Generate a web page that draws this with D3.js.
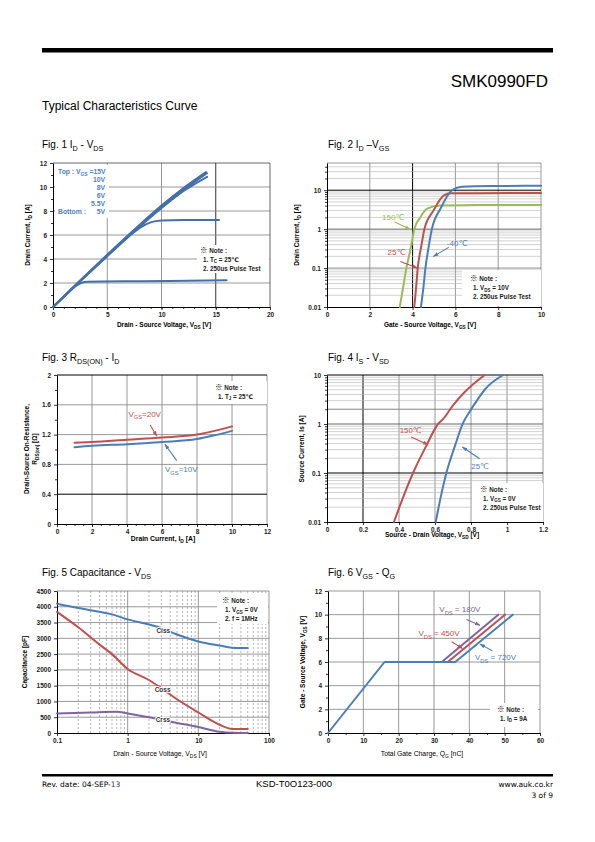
<!DOCTYPE html>
<html><head><meta charset="utf-8">
<script src="https://cdn.jsdelivr.net/npm/d3@7"></script>
<style>body{margin:0;background:#fff}</style>
</head><body>
<svg id="page" width="595" height="842" xmlns="http://www.w3.org/2000/svg"></svg>
<script>
// ---------------- DATA ----------------
// Fig 1  ID - VDS
const f1XTicks = [0,5,10,15,20];
const f1YTicks = [0,2,4,6,8,10,12];
const id_vgs15 = [[0,0],[2.5,2.2],[5,4.35],[7.5,6.45],[10,8.45],[12,9.9],[14.1,11.25]];
const id_vgs10 = [[0,0],[2.5,2.2],[5,4.32],[7.5,6.4],[10,8.4],[12,9.85],[14.2,11.15]];
const id_vgs8  = [[0,0],[2.5,2.18],[5,4.3],[7.5,6.35],[10,8.3],[12,9.65],[14.2,10.85]];
const id_vgs6  = [[0,0],[2.5,2.15],[5,4.25],[7.5,6.3],[10,8.25],[12,9.7],[14.0,11.05]];
const id_vgs55 = [[0,0],[2.5,2.15],[5,4.25],[7,5.9],[8,6.6],[9,7.05],[10,7.2],[12,7.25],[15.3,7.25]];
const id_vgs5  = [[0,0],[1,0.85],[2,1.7],[2.6,2.0],[3.2,2.1],[8,2.15],[16,2.22]];
const f1Legend = ["15V","10V","8V","6V","5.5V","5V"];

// Fig 2  ID - VGS
const f2XTicks = [0,2,4,6,8,10];
const f2YTicks = [0.01,0.1,1,10];
const idvgs_150 = [[3.4,0.01],[3.55,0.03],[3.71,0.1],[3.9,0.3],[4.08,1],[4.36,2.0],[4.67,3.35],[5.3,4.07],[7,4.15],[10,4.2]];
const idvgs_25  = [[4.08,0.01],[4.16,0.03],[4.24,0.1],[4.4,0.35],[4.55,1],[4.98,3.0],[5.45,7.3],[5.8,8.3],[7,8.4],[10,8.5]];
const idvgs_m40 = [[4.39,0.01],[4.5,0.03],[4.6,0.1],[4.75,0.35],[4.9,1],[5.3,3.35],[5.84,10],[6.3,12.3],[8,12.8],[10,13]];
const f2Labels = [{t:"150℃",x:2.57,y:2.06,s:"green"},{t:"25℃",x:2.83,y:0.255,s:"red"},{t:"-40℃",x:5.6,y:0.43,s:"blue"}];
const f2Arrows = [{x1:3.15,y1:1.54,x2:3.89,y2:0.98,s:"green"},{x1:3.43,y1:0.148,x2:4.22,y2:0.1,s:"red"},{x1:5.69,y1:0.34,x2:4.97,y2:0.2,s:"blue"}];

// Fig 3  RDS(on) - ID
const f3XTicks = [0,2,4,6,8,10,12];
const f3YTicks = [0,0.4,0.8,1.2,1.6,2];
const rds_vgs20 = [[1,1.09],[2,1.10],[4,1.13],[6,1.16],[8,1.2],[9,1.25],[10,1.31]];
const rds_vgs10 = [[1,1.03],[2,1.05],[4,1.07],[6,1.10],[8,1.14],[9,1.19],[10,1.25]];
const f3Labels = [{t:["V",["GS"],"=20V"],x:4.08,y:1.48,s:"red"},{t:["V",["GS"],"=10V"],x:6.17,y:0.73,s:"blue"}];
const f3Arrows = [{x1:5.32,y1:1.33,x2:5.7,y2:1.18,s:"red"},{x1:6.84,y1:0.85,x2:6.17,y2:1.07,s:"blue"}];

// Fig 4  IS - VSD
const f4XTicks = [0,0.2,0.4,0.6,0.8,1,1.2];
const f4YTicks = [0.01,0.1,1,10];
const is_150 = [[0.372,0.01],[0.42,0.03],[0.478,0.1],[0.55,0.35],[0.617,1],[0.644,1.25],[0.7,2.4],[0.768,4.6],[0.876,10]];
const is_25  = [[0.604,0.01],[0.63,0.03],[0.663,0.1],[0.71,0.35],[0.756,1.05],[0.793,1.8],[0.84,3.3],[0.876,5.0],[0.978,10]];
const f4Labels = [{t:"150℃",x:0.404,y:0.73,s:"red"},{t:"25℃",x:0.802,y:0.137,s:"blue"}];
const f4Arrows = [{x1:0.468,y1:0.543,x2:0.561,y2:0.379,s:"red"},{x1:0.848,y1:0.196,x2:0.752,y2:0.34,s:"blue"}];

// Fig 5  Capacitance - VDS
const f5XTicks = [0.1,1,10,100];
const f5YTicks = [0,500,1000,1500,2000,2500,3000,3500,4000,4500];
const ciss = [[0.1,4100],[0.2,3960],[0.4,3840],[0.6,3760],[1,3600],[2,3440],[3,3330],[5,3120],[10,2900],[20,2770],[30,2705],[50,2690]];
const coss = [[0.1,3840],[0.2,3350],[0.4,2800],[0.6,2500],[1,2030],[2,1680],[3,1420],[5,1070],[10,650],[20,260],[30,130],[50,125]];
const crss = [[0.1,620],[0.3,650],[0.7,670],[1,620],[2,500],[3,420],[5,320],[10,190],[20,40],[30,5],[50,0]];
const f5Labels = [{t:"Ciss",x:2.55,y:3238},{t:"Coss",x:2.41,y:1367},{t:"Crss",x:2.49,y:420}];

// Fig 6  VGS - QG
const f6XTicks = [0,10,20,30,40,50,60];
const f6YTicks = [0,2,4,6,8,10,12];
const qg_720 = [[0,0],[16,6],[36,6],[52.3,10]];
const qg_450 = [[33.9,6],[50.1,10]];
const qg_180 = [[32.2,6],[48.2,10]];
const f6Labels = [{t:["V",["DS"]," =  180V"],x:31.5,y:10.43,s:"purple"},{t:["V",["DS"]," =  450V"],x:25.6,y:8.41,s:"red"},{t:["V",["DS"]," =  720V"],x:41.6,y:6.39,s:"blue"}];
const f6Arrows = [{x1:39.2,y1:9.59,x2:43,y2:9.11,s:"purple"},{x1:35,y1:7.71,x2:38,y2:7.15,s:"red"},{x1:46.5,y1:6.95,x2:43,y2:7.51,s:"blue"}];

// ---------------- STYLE ----------------
const COL = {blue:"#4a7ebb", red:"#c0504d", green:"#9bbb59", purple:"#8064a2", dblue:"#4470aa"};
const FONT = "'Liberation Sans', Arial, 'DejaVu Sans', sans-serif";
const SYMFONT = "'Noto Sans CJK JP'";
const GRAY = "#7f7f7f", LGRAY = "#b3b3b3", BLACK = "#000";

const svg = d3.select("#page").attr("font-family", FONT);
svg.append("rect").attr("width",595).attr("height",842).attr("fill","#fff");
const defs = svg.append("defs");
Object.entries(COL).forEach(([k,c])=>{
  defs.append("marker").attr("id","ah-"+k).attr("viewBox","0 0 10 10").attr("refX",9).attr("refY",5)
    .attr("markerWidth",5).attr("markerHeight",5).attr("orient","auto")
    .append("path").attr("d","M0,1.5L10,5L0,8.5z").attr("fill",c);
});

function rich(sel, parts, fs){
  let shifted = 0;
  (Array.isArray(parts)?parts:[parts]).forEach(p=>{
    const isSub = Array.isArray(p);
    const t = sel.append("tspan").text(isSub?p[0]:p);
    const want = isSub ? fs*0.3 : 0;
    if (want!==shifted){ t.attr("dy", want-shifted); shifted = want; }
    if (isSub) t.attr("font-size", fs*0.72);
  });
  return sel;
}
function text(x,y,parts,fs,opt={}){
  const t = svg.append("text").attr("x",x).attr("y",y).attr("font-size",fs)
    .attr("font-weight",opt.bold?"bold":"normal").attr("fill",opt.fill||"#000")
    .attr("text-anchor",opt.anchor||"start");
  if (opt.family) t.attr("font-family",opt.family);
  if (opt.rotate) t.attr("transform",`rotate(-90,${x},${y})`);
  rich(t, parts, fs);
  return t;
}

function chart(F, x, y, o){
  const g = svg.append("g");
  (o.vgrid||[]).forEach(d=>g.append("line").attr("x1",x(d[0])).attr("x2",x(d[0])).attr("y1",F.t).attr("y2",F.b)
     .attr("stroke",d[1]).attr("stroke-width",d[2]||0.8).attr("stroke-dasharray",d[3]||null));
  (o.hgrid||[]).forEach(d=>g.append("line").attr("y1",y(d[0])).attr("y2",y(d[0])).attr("x1",F.l).attr("x2",F.r)
     .attr("stroke",d[1]).attr("stroke-width",d[2]||0.8).attr("stroke-dasharray",d[3]||null));
  (o.boxes||[]).forEach(b=>g.append("rect").attr("x",F.l+b[0]).attr("y",F.t+b[1]).attr("width",b[2]).attr("height",b[3]).attr("fill","#fff"));
  if (o.xMinor) g.append("g").attr("transform",`translate(0,${F.b})`)
     .call(d3.axisBottom(x).tickValues(o.xMinor).tickFormat("").tickSize(2).tickSizeOuter(0)).select(".domain").remove();
  if (o.yMinor) g.append("g").attr("transform",`translate(${F.l},0)`)
     .call(d3.axisLeft(y).tickValues(o.yMinor).tickFormat("").tickSize(2).tickSizeOuter(0)).select(".domain").remove();
  g.append("g").attr("transform",`translate(0,${F.b})`)
     .call(d3.axisBottom(x).tickValues(o.xTicks).tickFormat(o.xFmt||(d=>d)).tickSize(3).tickSizeOuter(0).tickPadding(2));
  g.append("g").attr("transform",`translate(${F.l},0)`)
     .call(d3.axisLeft(y).tickValues(o.yTicks).tickFormat(o.yFmt||(d=>d)).tickSize(3).tickSizeOuter(0).tickPadding(3));
  g.selectAll(".tick text").attr("font-family",FONT).attr("font-size",6.5).attr("font-weight","bold").attr("fill","#222");
  g.selectAll(".domain").attr("stroke","#000").attr("stroke-width",1);
  g.selectAll(".tick line").attr("stroke","#000").attr("stroke-width",0.8);
  return g;
}
function lines(g, x, y, series, curve){
  const ln = d3.line().x(d=>x(d[0])).y(d=>y(d[1])).curve(curve||d3.curveMonotoneX);
  series.forEach(s=>g.append("path").attr("d",ln(s.d)).attr("fill","none").attr("stroke",s.c)
     .attr("stroke-width",s.w||2).attr("stroke-linejoin","round").attr("stroke-linecap","round"));
}
function arrows(g,x,y,arr){
  arr.forEach(a=>g.append("line").attr("x1",x(a.x1)).attr("y1",y(a.y1)).attr("x2",x(a.x2)).attr("y2",y(a.y2))
     .attr("stroke",COL[a.s]).attr("stroke-width",1.1).attr("marker-end",`url(#ah-${a.s})`));
}
function labels(x,y,arr,fs,bold){
  arr.forEach(l=>text(x(l.x),y(l.y)+fs*0.35,l.t,fs,{fill:l.s?COL[l.s]:"#222",bold:bold}));
}

// ---------------- PAGE ----------------
svg.append("rect").attr("x",42).attr("y",48).attr("width",511).attr("height",4.5).attr("fill","#000");
text(548,87,"SMK0990FD",17,{anchor:"end"});
text(42,110,"Typical Characteristics Curve",12);
svg.append("rect").attr("x",42).attr("y",774).attr("width",511).attr("height",2.5).attr("fill","#000");
const FOOT = "'DejaVu Sans', Verdana, sans-serif";
const rev = text(42,787,"Rev. date: 04-SEP-",7.5,{family:FOOT});
rev.append("tspan").attr("fill","#1f3a6e").text("13");
text(294,787,"KSD-T0O123-000",9.5,{anchor:"middle"});
text(553,787,"www.auk.co.kr",7.5,{anchor:"end",family:FOOT});
text(553,798,"3 of 9",7.5,{anchor:"end",family:FOOT});

// titles
text(42,148,["Fig. 1 I",["D"]," - V",["DS"]],10);
text(328,148,["Fig. 2 I",["D"]," \u2013V",["GS"]],10);
text(42,361,["Fig. 3 R",["DS(ON)"]," - I",["D"]],10);
text(328,361,["Fig. 4 I",["S"]," - V",["SD"]],10);
text(42,576,["Fig. 5 Capacitance - V",["DS"]],10);
text(328,576,["Fig. 6 V",["GS"]," - Q",["G"]],10);

function note(x0,y0,linesArr){
  const h = svg.append("text").attr("x",x0).attr("y",y0).attr("font-size",6.3).attr("font-weight","bold").attr("fill","#222");
  h.append("tspan").attr("font-family",SYMFONT).attr("font-weight","normal").attr("font-size",7.5).attr("fill","#000").text("\u203B");
  h.append("tspan").text(" Note :");
  linesArr.forEach((l,i)=>text(x0+3, y0+(i+1)*9, l, 6.3, {bold:true,fill:"#222"}));
}

// ---------- Fig 1 ----------
{
  const F = {l:53,r:270,t:163,b:307};
  const x = d3.scaleLinear().domain([0,20]).range([F.l,F.r]);
  const y = d3.scaleLinear().domain([0,12]).range([F.b,F.t]);
  const g = chart(F,x,y,{xTicks:f1XTicks,yTicks:f1YTicks,
    xMinor:d3.range(1,20,1), yMinor:d3.range(1,12,2),
    vgrid:[[5,GRAY],[10,GRAY],[15,BLACK],[20,"#404040"]],
    hgrid:[[2,GRAY],[4,GRAY],[6,GRAY],[8,GRAY],[10,GRAY],[12,"#404040"]],
    boxes:[[2,2,54,53],[144,82,72,28]]});
  lines(g,x,y,[{d:id_vgs5,c:COL.dblue},{d:id_vgs55,c:COL.dblue},{d:id_vgs6,c:COL.dblue},{d:id_vgs8,c:COL.dblue},{d:id_vgs10,c:COL.dblue},{d:id_vgs15,c:COL.dblue}]);
  const lb = "#4f81bd";
  text(58,173.5,["Top : V",["GS"]," ="+f1Legend[0]],6.8,{bold:true,fill:lb});
  f1Legend.slice(1,5).forEach((v,i)=>text(105,181.8+i*8.1,v,6.8,{bold:true,fill:lb,anchor:"end"}));
  text(58,214,"Bottom :",6.8,{bold:true,fill:lb});
  text(105,214,f1Legend[5],6.8,{bold:true,fill:lb,anchor:"end"});
  note(200,252.5,[["1. T",["C"]," = 25\u2103"],"2. 250us Pulse Test"]);
  text(164,327,["Drain - Source Voltage, V",["DS"]," [V]"],6.5,{bold:true,anchor:"middle"});
  text(30,235,["Drain Current, I",["D"]," [A]"],6.5,{bold:true,anchor:"middle",rotate:true});
}

// ---------- Fig 2 ----------
{
  const F = {l:327,r:541,t:163,b:307};
  const x = d3.scaleLinear().domain([0,10]).range([F.l,F.r]);
  const y = d3.scaleLog().domain([0.01,50]).range([F.b,F.t]);
  const minors = [];
  [0.01,0.1,1,10].forEach(d=>{for(let k=2;k<=9;k++){ if(d*k<=45) minors.push(d*k);} });
  const hg = minors.map(v=>[v,LGRAY,0.6]).concat([[0.1,GRAY,0.9],[1,"#555",0.9],[10,BLACK,1],[50,GRAY,0.8]]);
  const g = chart(F,x,y,{xTicks:f2XTicks,yTicks:f2YTicks,yFmt:d3.format("~g"),
    yMinor:minors,
    vgrid:[[2,GRAY],[4,BLACK,1],[6,GRAY],[8,GRAY],[10,GRAY]],
    hgrid:hg, boxes:[[135,107,79,36]]});
  lines(g,x,y,[{d:idvgs_150,c:COL.green},{d:idvgs_25,c:COL.red},{d:idvgs_m40,c:COL.blue}]);
  arrows(g,x,y,f2Arrows);
  labels(x,y,f2Labels,8);
  note(470,281,[["1. V",["DS"]," = 10V"],"2. 250us Pulse Test"]);
  text(430,327,["Gate - Source Voltage, V",["GS"]," [V]"],6.5,{bold:true,anchor:"middle"});
  text(299,235,["Drain Current, I",["D"]," [A]"],6.5,{bold:true,anchor:"middle",rotate:true});
}

// ---------- Fig 3 ----------
{
  const F = {l:57,r:267,t:375,b:524};
  const x = d3.scaleLinear().domain([0,12]).range([F.l,F.r]);
  const y = d3.scaleLinear().domain([0,2]).range([F.b,F.t]);
  const g = chart(F,x,y,{xTicks:f3XTicks,yTicks:f3YTicks,yFmt:d=>d,
    xMinor:d3.range(0.5,12,0.5), yMinor:d3.range(0.2,2,0.4),
    vgrid:[[2,GRAY],[4,GRAY],[6,GRAY],[8,GRAY],[10,GRAY],[12,GRAY]],
    hgrid:[[0.4,BLACK,1],[0.8,GRAY],[1.2,GRAY],[1.6,GRAY],[2,BLACK,1]],
    boxes:[[150,6,60,23]]});
  lines(g,x,y,[{d:rds_vgs20,c:COL.red},{d:rds_vgs10,c:COL.blue}]);
  arrows(g,x,y,f3Arrows);
  labels(x,y,f3Labels,8);
  note(215,389.5,[["1. T",["J"]," = 25\u2103"]]);
  text(163,541,["Drain Current, I",["D"]," [A]"],6.8,{bold:true,anchor:"middle"});
  text(29,449,"Drain-Source On-Resistance,",6.5,{bold:true,anchor:"middle",rotate:true});
  text(37,449,["R",["DS(on)"]," [\u03A9]"],6.5,{bold:true,anchor:"middle",rotate:true});
}

// ---------- Fig 4 ----------
{
  const F = {l:327,r:543,t:375,b:522};
  const x = d3.scaleLinear().domain([0,1.2]).range([F.l,F.r]);
  const y = d3.scaleLog().domain([0.01,10]).range([F.b,F.t]);
  const minors = [];
  [0.01,0.1,1].forEach(d=>{for(let k=2;k<=9;k++) minors.push(d*k);});
  const hg = minors.map(v=>[v,LGRAY,0.6]).concat([[2,GRAY,0.8],[0.1,BLACK,1],[1,"#555",0.9],[10,BLACK,1]]);
  const g = chart(F,x,y,{xTicks:f4XTicks,yTicks:f4YTicks,xFmt:d3.format("~g"),yFmt:d3.format("~g"),
    yMinor:minors,
    vgrid:[[0.2,BLACK,1],[0.4,GRAY],[0.6,GRAY],[0.8,GRAY],[1,GRAY],[1.2,GRAY]],
    hgrid:hg, boxes:[[145,108,71,39]]});
  lines(g,x,y,[{d:is_150,c:COL.red},{d:is_25,c:COL.blue}]);
  arrows(g,x,y,f4Arrows);
  labels(x,y,f4Labels,7.8);
  note(480,491.5,[["1. V",["GS"]," = 0V"],"2. 250us Pulse Test"]);
  text(432,537,["Source - Drain Voltage, V",["SD"]," [V]"],6.5,{bold:true,anchor:"middle"});
  text(304,449,"Source Current, Is [A]",6.5,{bold:true,anchor:"middle",rotate:true});
}

// ---------- Fig 5 ----------
{
  const F = {l:57,r:269,t:591,b:733};
  const x = d3.scaleLog().domain([0.1,100]).range([F.l,F.r]);
  const y = d3.scaleLinear().domain([0,4500]).range([F.b,F.t]);
  const minors = [];
  [0.1,1,10].forEach(d=>{for(let k=2;k<=9;k++) minors.push(d*k);});
  const vg = minors.map(v=>[v,GRAY,0.6,"2,2"]).concat([[1,GRAY,0.8],[10,GRAY,0.8],[100,GRAY,0.8]]);
  const g = chart(F,x,y,{xTicks:f5XTicks,yTicks:f5YTicks,xFmt:d3.format("~g"),
    vgrid:vg, hgrid:d3.range(500,5000,500).map(v=>[v,GRAY,0.8]),
    boxes:[[160,4,51,29]]});
  lines(g,x,y,[{d:ciss,c:COL.blue},{d:coss,c:COL.red},{d:crss,c:COL.purple}]);
  f5Labels.forEach(l=>{
    text(x(l.x),y(l.y)+2.3,l.t,6.5,{bold:true,fill:"#333"}).attr("stroke","#fff").attr("stroke-width",2).attr("paint-order","stroke");
  });
  note(222,603,[["1. V",["GS"]," = 0V"],"2. f = 1MHz"]);
  text(160,756,["Drain - Source Voltage, V",["DS"]," [V]"],6.8,{anchor:"middle"});
  text(27,662,"Capacitance [pF]",6.5,{bold:true,anchor:"middle",rotate:true});
}

// ---------- Fig 6 ----------
{
  const F = {l:328,r:540,t:591,b:733};
  const x = d3.scaleLinear().domain([0,60]).range([F.l,F.r]);
  const y = d3.scaleLinear().domain([0,12]).range([F.b,F.t]);
  const g = chart(F,x,y,{xTicks:f6XTicks,yTicks:f6YTicks,
    xMinor:d3.range(5,60,10), yMinor:d3.range(1,12,2),
    vgrid:d3.range(10,70,10).map(v=>[v,GRAY]), hgrid:d3.range(2,14,2).map(v=>[v,GRAY]),
    boxes:[[162,112,48,24]]});
  lines(g,x,y,[{d:qg_180,c:COL.purple},{d:qg_450,c:COL.red},{d:qg_720,c:COL.blue}],d3.curveLinear);
  arrows(g,x,y,f6Arrows);
  labels(x,y,f6Labels,8);
  note(497,711.5,[["1. I",["D"]," = 9A"]]);
  text(422,756,["Total Gate Charge, Q",["G"]," [nC]"],6.8,{anchor:"middle"});
  text(305,662,["Gate - Source Voltage, V",["GS"]," [V]"],6.5,{bold:true,anchor:"middle",rotate:true});
}
</script></body></html>
